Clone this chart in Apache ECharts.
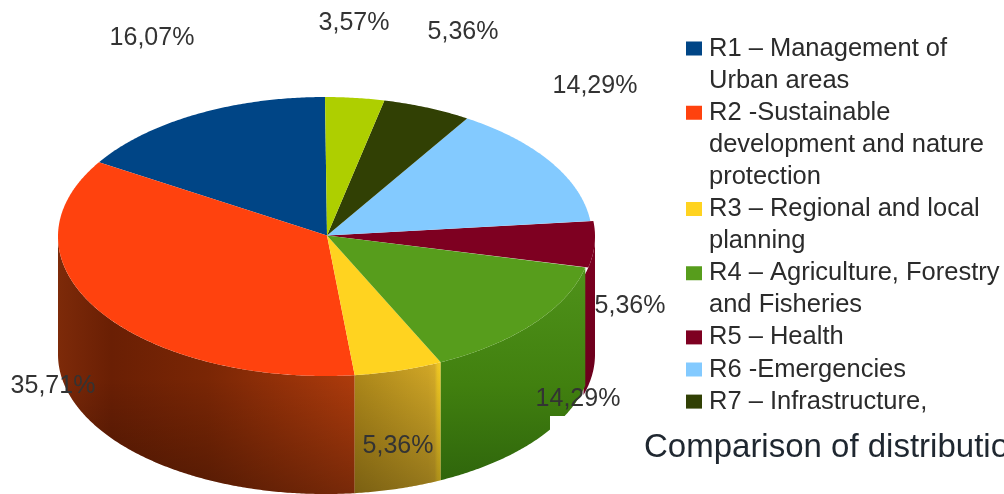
<!DOCTYPE html>
<html><head><meta charset="utf-8">
<style>html,body{margin:0;padding:0;background:#fff;overflow:hidden}#c{width:1004px;height:494px}</style>
<script src="https://cdn.jsdelivr.net/npm/echarts@6/dist/echarts.min.js"></script>
</head><body><div id="c"></div>
<script>
const names = [
  'R1 – Management of\nUrban areas',
  'R2 -Sustainable\ndevelopment and nature\nprotection',
  'R3 – Regional and local\nplanning',
  'R4 – Agriculture, Forestry\nand Fisheries',
  'R5 – Health',
  'R6 -Emergencies',
  'R7 – Infrastructure,',
  'R8'
];
const shares = [16.07, 35.71, 5.36, 14.29, 5.36, 14.29, 5.36, 3.57];
const colors = ['#004586', '#ff420e', '#ffd320', '#579d1c', '#7e0021', '#83caff', '#314004', '#aecf00'];
const caption = 'Comparison of distribution';

const CX = 325, CY = 236.5, RX = 267, RY = 139.5, DEPTH = 118;
const FONT = 'Liberation Sans';
const labelPos = [[152,38],[53,386],[398,446],[578,399],[630,306],[595,86],[463,32],[354,23]];
const offsetX = {4:3};
const sideGrad = {
  1: {x2:1,y2:0,stops:[[0,'#7d2a09'],[0.18,'#6a1f04'],[0.5,'#7a2605'],[1,'#ad3b0c']]},
  2: {x2:1,y2:0,stops:[[0,'#b08a1a'],[0.85,'#d0a626'],[0.93,'#d8ae28'],[0.96,'#ecc424'],[1,'#f6cc22']]},
  3: {x2:0,y2:1,stops:[[0,'#4f921a'],[0.55,'#41800f'],[1,'#2f660c']]},
  4: {x2:0,y2:1,stops:[[0,'#7e0021'],[1,'#6a001c']]}
};
const sideShade = {1:0.3, 2:0.3};
const total = shares.reduce((a,b)=>a+b,0);
function pt(deg, dy, ox){ // deg measured counter-clockwise from 12 o'clock
  const t = deg*Math.PI/180;
  return [CX + (ox||0) - RX*Math.sin(t), CY - RY*Math.cos(t) + (dy||0)];
}
function arc(a,b,dy,ox){ const p=[]; const n=Math.max(2,Math.ceil(b-a)*2);
  for(let i=0;i<=n;i++) p.push(pt(a+(b-a)*i/n,dy,ox)); return p; }

function renderSlice(idx){
  return function(params, api){
    let before = 0; for(let i=0;i<idx;i++) before += shares[i];
    const a = before/total*360, b = (before+api.value(0))/total*360;
    const ox = offsetX[idx]||0;
    const children = [];
    const sa = Math.max(a-(ox?4:0),90), sb = Math.min(b,270);
    if (sb > sa){
      const g = sideGrad[idx];
      const top = arc(sa,sb,0,ox), bot = arc(sa,sb,DEPTH,ox).reverse();
      const pts = top.concat(bot);
      children.push({type:'polygon',shape:{points:pts},
        style:{fill:{type:'linear',x:0,y:0,x2:g.x2,y2:g.y2,
          colorStops:g.stops.map(s=>({offset:s[0],color:s[1]}))}}});
      if (sideShade[idx]) children.push({type:'polygon',shape:{points:pts},
        style:{fill:{type:'linear',x:0,y:0,x2:0,y2:1,colorStops:[
          {offset:idx===1?0.55:0,color:'rgba(0,0,0,0)'},{offset:1,color:'rgba(0,0,0,'+sideShade[idx]+')'}]}}});
    }
    children.push({type:'polygon',shape:{points:[[CX+2,CY-1]].concat(arc(a,b,0,ox))},
      style:{fill:colors[idx]}});
    children.push({type:'text',z2:50,x:labelPos[idx][0],y:labelPos[idx][1],
      style:{text:api.value(0).toFixed(2).replace('.',',')+'%',x:0,y:0,align:'center',verticalAlign:'middle',
        font:'25px "'+FONT+'"',fill:'#333'}});
    return {type:'group',children:children};
  };
}
const lineH = 32.1;
const legendIdx = [0,1,2,3,4,5,6];
let rowTop = 32.5;
const legends = legendIdx.map(i=>{
  const lines = names[i].split('\n').length;
  const h = lines*lineH;
  const l = {
    data:[names[i]], left:686, top:rowTop, padding:0, itemGap:0, selectedMode:false,
    itemWidth:18, itemHeight:h,
    icon:'path://M0,9H16V23H0Z M0,0L0,0 M18,'+h+'L18,'+h,
    textStyle:{fontFamily:FONT,fontSize:25.5,color:'#2b2b2b',lineHeight:lineH}
  };
  rowTop += h;
  return l;
});
const chart = echarts.init(document.getElementById('c'),null,{renderer:'canvas'});
chart.setOption({
  animation:false,
  backgroundColor:'#fff',
  tooltip:{show:false},
  color:colors,
  title:{text:caption,left:644,top:431,padding:0,z:8,textStyle:{fontFamily:FONT,fontSize:33,fontWeight:'normal',color:'#1f2730'}},
  legend:legends,
  graphic:{elements:[{type:'rect',z:7,shape:{x:550,y:416,width:454,height:78},style:{fill:'#fff'},silent:true}]},
  series:names.map((n,i)=>({
    type:'custom',name:n,coordinateSystem:'none',silent:true,z:offsetX[i]?1:2,
    data:[[shares[i]]],renderItem:renderSlice(i),
    itemStyle:{color:colors[i]}
  }))
});
</script></body></html>
